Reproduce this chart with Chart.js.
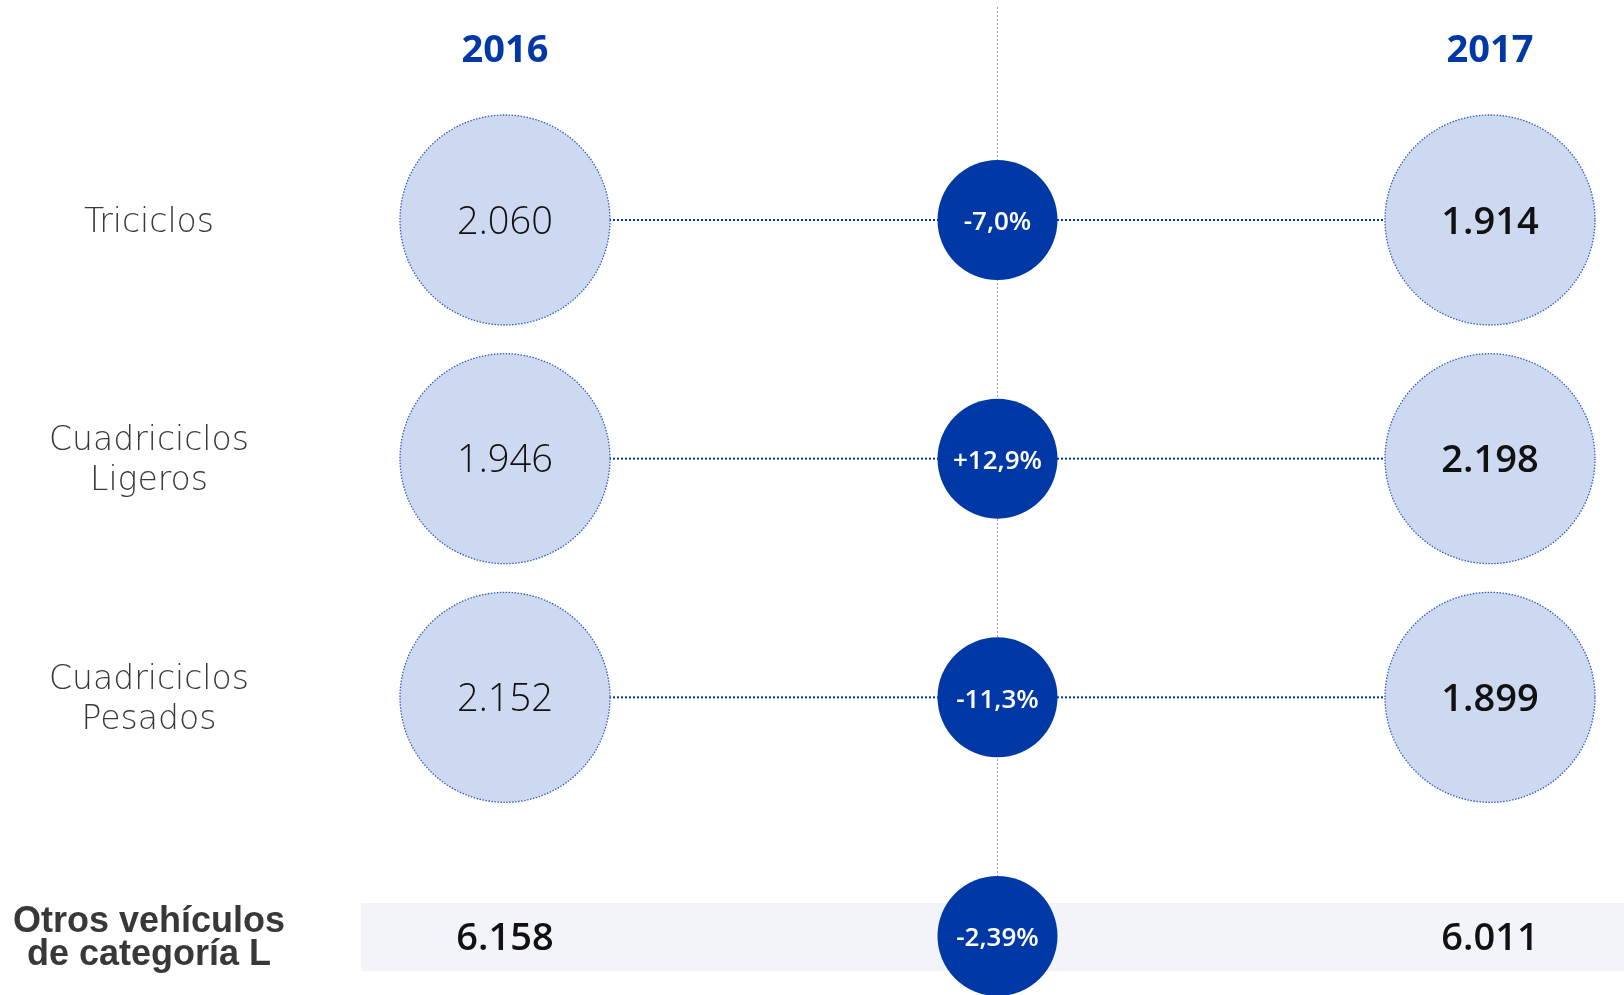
<!DOCTYPE html>
<html><head><meta charset="utf-8">
<script src="https://cdn.jsdelivr.net/npm/chart.js@4/dist/chart.umd.min.js"></script>
<style>html,body{margin:0;padding:0;background:#fff;} #wrap{width:1624px;height:995px;position:relative;}</style>
</head><body><div id="wrap"><canvas id="c" width="1624" height="995"></canvas></div>
<script>
// ---- data ----
const categories = ['Triciclos', ['Cuadriciclos', 'Ligeros'], ['Cuadriciclos', 'Pesados'], ['Otros vehículos', 'de categoría L']];
const years = ['2016', '2017'];
const values2016 = [2060, 1946, 2152];
const values2017 = [1914, 2198, 1899];
const changes = [-7.0, 12.9, -11.3];
const total2016 = 6158;
const total2017 = 6011;
const totalChange = -2.39;

// ---- styles ----
const BLUE = '#0039A6';
const LIGHT = '#CDD9F0';
const BAND = '#F2F4F9';
const GRAY_TXT = '#383838';

const fmtInt = v => String(v).replace(/\B(?=(\d{3})+(?!\d))/g, '.');
const fmtPct = (v, d) => (v > 0 ? '+' : '') + v.toFixed(d).replace('.', ',') + '%';

const rows = values2016.map((_, i) => i);
const totalRow = categories.length - 1;

const lineSets = rows.map(i => ({
  type: 'line', data: [{x: 0, y: i}, {x: 2, y: i}],
  borderColor: BLUE, borderWidth: 2, borderDash: [2, 2], pointRadius: 0,
  fill: false, order: 5, clip: false
}));

const lightFont = {family: '"Open Sans"', weight: '300', size: 38};
const boldFont = {family: '"Open Sans"', weight: '600', size: 38};
const pctFont = {family: '"Open Sans"', weight: '600', size: 26};

const datasets = [
  ...lineSets,
  { data: values2016.map((v, i) => ({x: 0, y: i})), texts: values2016.map(fmtInt), tfont: lightFont, tcolor: '#111',
    outline: true, pointRadius: 105, backgroundColor: LIGHT, borderWidth: 0, clip: false, order: 3 },
  { data: values2017.map((v, i) => ({x: 2, y: i})), texts: values2017.map(fmtInt), tfont: boldFont, tcolor: '#111',
    outline: true, pointRadius: 105, backgroundColor: LIGHT, borderWidth: 0, clip: false, order: 3 },
  { data: [...changes.map((c, i) => ({x: 1, y: i})), {x: 1, y: totalRow}],
    texts: [...changes.map(c => fmtPct(c, 1)), fmtPct(totalChange, 2)], tfont: pctFont, tcolor: '#fff',
    pointRadius: 60, backgroundColor: BLUE, borderWidth: 0, clip: false, order: 2 },
  { data: [{x: 0, y: totalRow}, {x: 2, y: totalRow}], texts: [fmtInt(total2016), fmtInt(total2017)],
    tfont: boldFont, tcolor: '#111', pointRadius: 0, borderWidth: 0, clip: false, order: 1 }
];

const deco = {
  id: 'deco',
  beforeDatasetsDraw(chart) {
    const {ctx, chartArea, scales: {x, y}} = chart;
    const yc = y.getPixelForValue(totalRow);
    ctx.save();
    ctx.fillStyle = BAND;
    ctx.fillRect(chartArea.left + 61, yc - 33, chartArea.right - chartArea.left - 61, 68);
    const xm = Math.round(x.getPixelForValue(1)) + 0.5;
    ctx.strokeStyle = '#a0a0a0';
    ctx.lineWidth = 1;
    ctx.setLineDash([2, 2]);
    ctx.beginPath();
    ctx.moveTo(xm, 7);
    ctx.lineTo(xm, yc);
    ctx.stroke();
    ctx.restore();
  },
  afterDatasetsDraw(chart) {
    const {ctx} = chart;
    ctx.save();
    chart.data.datasets.forEach((ds, di) => {
      const meta = chart.getDatasetMeta(di);
      if (ds.outline) {
        meta.data.forEach(el => {
          ctx.beginPath();
          ctx.setLineDash([1.5, 1.5]);
          ctx.strokeStyle = '#2f5dbd';
          ctx.lineWidth = 1.3;
          ctx.arc(el.x, el.y, el.options.radius, 0, Math.PI * 2);
          ctx.stroke();
        });
      }
      if (ds.texts) {
        ctx.setLineDash([]);
        ctx.fillStyle = ds.tcolor;
        ctx.font = `${ds.tfont.weight} ${ds.tfont.size}px ${ds.tfont.family}`;
        ctx.textAlign = 'center';
        ctx.textBaseline = 'middle';
        meta.data.forEach((el, i) => ctx.fillText(ds.texts[i], el.x, el.y + 3));
      }
    });
    ctx.restore();
  }
};

new Chart(document.getElementById('c'), {
  type: 'scatter',
  data: {datasets},
  plugins: [deco],
  options: {
    responsive: false,
    animation: false,
    events: [],
    layout: {autoPadding: false, padding: {top: 0, right: 0, bottom: 59, left: 0}},
    plugins: {legend: {display: false}, tooltip: {enabled: false}},
    scales: {
      x: {
        type: 'linear', position: 'top', min: -0.41624, max: 2.27208,
        grid: {display: false, drawTicks: false}, border: {display: false},
        afterBuildTicks: s => { s.ticks = [{value: 0}, {value: 2}]; },
        afterFit: s => { s.height = 220; s.paddingLeft = 0; s.paddingRight = 0; },
        ticks: {
          padding: 146, color: BLUE,
          font: {family: '"Open Sans"', weight: 'bold', size: 38},
          callback: v => years[v / 2]
        }
      },
      y: {
        type: 'linear', reverse: true, min: 0, max: totalRow,
        grid: {display: false, drawTicks: false}, border: {display: false},
        afterBuildTicks: s => { s.ticks = categories.map((_, i) => ({value: i})); },
        afterFit: s => { s.width = 300; s.paddingTop = 0; s.paddingBottom = 0; },
        ticks: {
          crossAlign: 'center', padding: 15, labelOffset: 3, color: GRAY_TXT,
          callback: v => categories[v],
          font: ctx => ctx.index === totalRow
            ? {family: '"Liberation Sans"', weight: 'bold', size: 36, lineHeight: 0.92}
            : {family: '"DejaVu Sans"', weight: '200', size: 33, lineHeight: 1.2}
        }
      }
    }
  }
});
</script>
</body></html>
